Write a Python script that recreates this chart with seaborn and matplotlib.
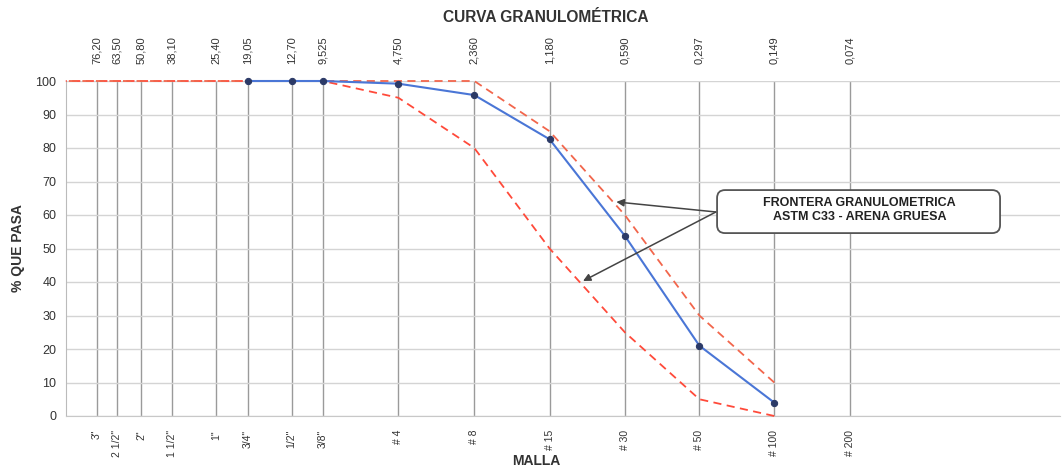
import numpy as np
import pandas as pd
import matplotlib
matplotlib.use('Agg')
import matplotlib.pyplot as plt
from matplotlib.patches import FancyBboxPatch
from matplotlib.ticker import NullLocator
import seaborn as sns
sns.set_style("white")
plt.rcParams['font.family'] = ['Liberation Sans', 'DejaVu Sans']

# == sieve data (mm)
sizes = [76.2, 63.5, 50.8, 38.1, 25.4, 19.05, 12.7, 9.525, 4.75, 2.36, 1.18, 0.59, 0.297, 0.149, 0.074]
top_labels = ['76,20', '63,50', '50,80', '38,10', '25,40', '19,05', '12,70', '9,525',
              '4,750', '2,360', '1,180', '0,590', '0,297', '0,149', '0,074']
bottom_labels = ['3"', '2 1/2"', '2"', '1 1/2"', '1"', '3/4"', '1/2"', '3/8"',
                 '# 4', '# 8', '# 15', '# 30', '# 50', '# 100', '# 200']

# sample curve
sample_sizes = [19.05, 12.7, 9.525, 4.75, 2.36, 1.18, 0.59, 0.297, 0.149]
sample_pass = [100, 100, 100, 99.2, 95.8, 82.6, 53.8, 21.0, 4.0]

# ASTM C33 limits (arena gruesa)
limit_sizes = [101.6, 76.2, 63.5, 50.8, 38.1, 25.4, 19.05, 12.7, 9.525, 4.75, 2.36, 1.18, 0.59, 0.297, 0.149]
upper_pass = [100, 100, 100, 100, 100, 100, 100, 100, 100, 100, 100, 85, 60, 30, 10]
lower_pass = [100, 100, 100, 100, 100, 100, 100, 100, 100, 95, 80, 50, 25, 5, 0]

df_s = pd.DataFrame({'size': sample_sizes, 'pass': sample_pass})
df_u = pd.DataFrame({'size': limit_sizes, 'pass': upper_pass})
df_l = pd.DataFrame({'size': limit_sizes, 'pass': lower_pass})

W, H = 1062, 467
fig = plt.figure(figsize=(W/100, H/100), dpi=100)
ax = fig.add_axes([66/W, 1-416/H, 994/W, 335/H])

dash = (0, (4.5, 3))
sns.lineplot(data=df_l, x='size', y='pass', ax=ax, color='#FF4A3A', lw=1.3,
             linestyle=dash, clip_on=False, zorder=3)
sns.lineplot(data=df_u, x='size', y='pass', ax=ax, color='#F2664C', lw=1.3,
             linestyle=dash, clip_on=False, zorder=3)
sns.lineplot(data=df_s, x='size', y='pass', ax=ax, color='#4A76D6', lw=1.5,
             marker='o', markersize=4.5, markerfacecolor='#2B3A67',
             markeredgecolor='#2B3A67', clip_on=False, zorder=4)

ax.set_xscale('log')
ax.set_xlim(101.4, 0.01072)
ax.set_ylim(0, 100)
ax.xaxis.set_minor_locator(NullLocator())
ax.set_xticks(sizes)
ax.set_xticklabels(bottom_labels, rotation=90, fontsize=7.5, color='#333333')
ax.set_yticks(np.arange(0, 101, 10))
ax.tick_params(axis='y', length=0, pad=7, labelsize=9, labelcolor='#333333')
ax.tick_params(axis='x', length=4, color='#9A9A9A', pad=6)
ax.set_xlabel('')
ax.set_ylabel('')
ax.grid(axis='x', color='#9A9A9A', lw=1)
ax.grid(axis='y', color='#D4D4D4', lw=1)
for s in ['top', 'right']:
    ax.spines[s].set_visible(False)
ax.spines['left'].set_color('#BBBBBB')
ax.spines['bottom'].set_color('#C8C8C8')

# == top axis with sieve openings
secax = ax.secondary_xaxis('top')
secax.xaxis.set_minor_locator(NullLocator())
secax.set_xticks(sizes)
secax.set_xticklabels(top_labels, rotation=90, fontsize=8, color='#333333')
secax.tick_params(length=0, pad=12)
secax.spines['top'].set_visible(False)

# == annotation box
box = FancyBboxPatch((0.655, 0.546), 0.2847, 0.1284, transform=ax.transAxes,
                     boxstyle='round,pad=0,rounding_size=0.008', mutation_aspect=994/335,
                     fc='white', ec='#555555', lw=1.3, zorder=6)
ax.add_patch(box)
ax.text(0.7985, 0.614, 'FRONTERA GRANULOMETRICA\nASTM C33 - ARENA GRUESA', transform=ax.transAxes,
        ha='center', va='center', fontsize=9, fontweight='bold', color='#222222',
        linespacing=1.2, zorder=7)
arrow_kw = dict(arrowstyle='-|>', color='#444444', lw=1.1, mutation_scale=11,
                shrinkA=0, shrinkB=0)
ax.annotate('', xy=(0.638, 63.9), xytext=(0.255, 60.9), arrowprops=arrow_kw, zorder=5)
ax.annotate('', xy=(0.867, 40.3), xytext=(0.255, 60.9), arrowprops=arrow_kw, zorder=5)

fig.text(546/W, 1-18/H, 'CURVA GRANULOMÉTRICA', ha='center', va='center',
         fontsize=11.2, fontweight='bold', color='#333333')
fig.text(536/W, 1-461/H, 'MALLA', ha='center', va='center',
         fontsize=10, fontweight='bold', color='#333333')
fig.text(18/W, 1-248/H, '% QUE PASA', ha='center', va='center', rotation=90,
         fontsize=10, fontweight='bold', color='#333333')

fig.savefig('out.png', dpi=100)
